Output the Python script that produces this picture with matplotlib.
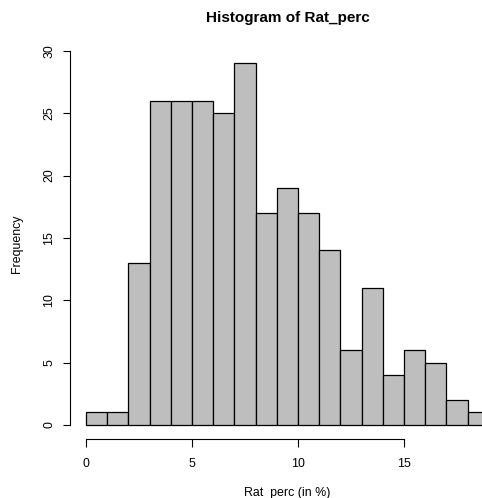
import matplotlib
matplotlib.use("Agg")
import matplotlib.pyplot as plt
import numpy as np

# histogram of Rat_perc, bins of width 1 from 0 to 19
bin_edges = list(range(0, 20))
counts = [1, 1, 13, 26, 26, 26, 25, 29, 17, 19, 17, 14, 6, 11, 4, 6, 5, 2, 1]
x_ticks = [0, 5, 10, 15]
y_ticks = [0, 5, 10, 15, 20, 25, 30]

plt.rcParams["font.family"] = ["Liberation Sans", "DejaVu Sans"]

W, H = 482, 498
fig = plt.figure(figsize=(W / 100, H / 100), dpi=100)

# plot region in pixels (R style, 4% padding round the data range)
left_px, right_px, top_px, bottom_px = 69.8, 505.0, 49.0, 439.3
ax = fig.add_axes([left_px / W, 1 - bottom_px / H,
                   (right_px - left_px) / W, (bottom_px - top_px) / H])

widths = np.diff(bin_edges)
ax.bar(bin_edges[:-1], counts, width=widths, align="edge",
       color="#bebebe", edgecolor="black", linewidth=0.9)

xr = bin_edges[-1] - bin_edges[0]
ax.set_xlim(bin_edges[0] - 0.04 * xr, bin_edges[-1] + 0.04 * xr)
ymax = max(counts)
ax.set_ylim(-0.04 * ymax, ymax * 1.04)

for s in ["top", "right"]:
    ax.spines[s].set_visible(False)
ax.spines["left"].set_bounds(y_ticks[0], y_ticks[-1])
ax.spines["bottom"].set_bounds(x_ticks[0], x_ticks[-1])
for s in ["left", "bottom"]:
    ax.spines[s].set_linewidth(0.8)

ax.set_xticks(x_ticks)
ax.set_yticks(y_ticks)
ax.tick_params(axis="both", length=5.4, width=0.8, labelsize=8.9)
ax.tick_params(axis="x", pad=8)
ax.tick_params(axis="y", pad=5)
for lab in ax.get_yticklabels():
    lab.set_rotation(90)
    lab.set_va("center")

fig.text(287.5 / W, 1 - 18 / H, "Histogram of Rat_perc", ha="center", va="center",
         fontsize=11, fontweight="bold")
fig.text(287.5 / W, 1 - 492.5 / H, "Rat_perc (in %)", ha="center", va="center",
         fontsize=8.9)
fig.text(17.5 / W, 1 - 244 / H, "Frequency", ha="center", va="center",
         rotation=90, fontsize=8.9)

fig.savefig("out.png", dpi=100)
